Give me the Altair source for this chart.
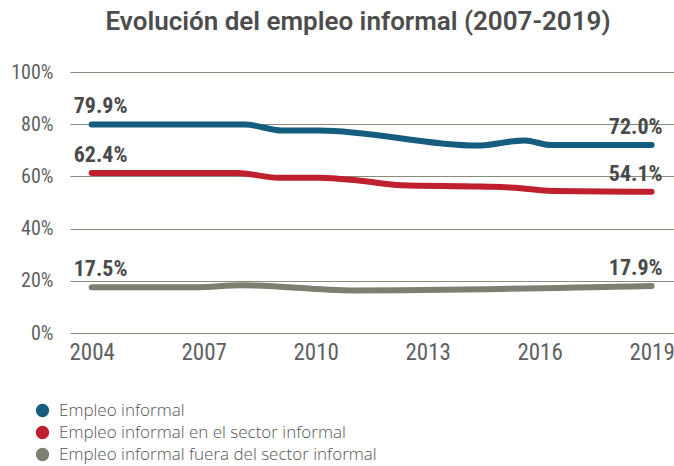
import altair as alt
import pandas as pd

series_names = [
    "Empleo informal",
    "Empleo informal en el sector informal",
    "Empleo informal fuera del sector informal",
]
series_colors = ["#145d7e", "#c01f2e", "#7d7f70"]

blue_years = [2004, 2008.1, 2009.1, 2010.1, 2014.33, 2015.6, 2016.3, 2019]
blue_values = [79.9, 79.9, 77.6, 77.6, 71.8, 73.8, 72.0, 72.0]
red_years = [2004, 2007.9, 2009.0, 2010.1, 2011.2, 2012.3, 2014.4, 2015.5, 2016.2, 2019]
red_values = [61.3, 61.3, 59.5, 59.5, 58.3, 56.6, 56.1, 55.5, 54.5, 54.1]
gray_years = [2004, 2006.8, 2008.0, 2011.0, 2019]
gray_values = [17.5, 17.5, 18.3, 16.3, 18.0]

start_labels = ["79.9%", "62.4%", "17.5%"]
end_labels = ["72.0%", "54.1%", "17.9%"]
x_ticks = [2004, 2007, 2010, 2013, 2016, 2019]
y_ticks = [0, 20, 40, 60, 80, 100]

all_years = [blue_years, red_years, gray_years]
all_values = [blue_values, red_values, gray_values]

rows = []
for name, ys, vs in zip(series_names, all_years, all_values):
    for i, (yr, v) in enumerate(zip(ys, vs)):
        rows.append({"serie": name, "year": yr, "value": v, "order": i})
df = pd.DataFrame(rows)

start_df = pd.DataFrame({
    "serie": series_names,
    "year": [ys[0] for ys in all_years],
    "value": [vs[0] for vs in all_values],
    "label": start_labels,
})
end_df = pd.DataFrame({
    "serie": series_names,
    "year": [ys[-1] for ys in all_years],
    "value": [vs[-1] for vs in all_values],
    "label": end_labels,
})

NARROW = "'Liberation Sans Narrow', 'Roboto Condensed', Roboto, sans-serif"

x_scale = alt.Scale(domain=[2003.42, 2019.6], nice=False, zero=False)
y_scale = alt.Scale(domain=[0, 100], nice=False)
color_scale = alt.Scale(domain=series_names, range=series_colors)

x_enc = alt.X(
    "year:Q",
    scale=x_scale,
    axis=alt.Axis(
        values=x_ticks, format="d", title=None, grid=False, domain=False,
        ticks=False, labelFont=NARROW, labelFontSize=23, labelColor="#5f5f5f",
        labelPadding=8, labelFlush=False, labelOverlap=False,
    ),
)
y_enc = alt.Y(
    "value:Q",
    scale=y_scale,
    axis=alt.Axis(
        values=y_ticks, labelExpr="datum.value + '%'", title=None, grid=True,
        gridColor="#8a8a7a", gridWidth=1, domain=False, ticks=False,
        labelFont=NARROW, labelFontSize=20, labelColor="#5f5f5f",
        labelPadding=17,
    ),
)

legend_points = alt.Chart(df).mark_point(
    filled=True, size=4, opacity=1, shape="circle"
).encode(
    x=x_enc,
    y=y_enc,
    color=alt.Color(
        "serie:N",
        scale=color_scale,
        legend=alt.Legend(
            title=None, orient="none", legendX=-36, legendY=330,
            symbolType="circle", symbolSize=177, symbolStrokeWidth=0,
            symbolOpacity=1,
            labelFont="'Open Sans', Roboto, sans-serif", labelFontSize=17,
            labelColor="#555555", labelFontWeight=300, labelOffset=8,
            rowPadding=4, labelLimit=0, direction="vertical",
        ),
    ),
)

lines = alt.Chart(df).mark_line(
    strokeWidth=6, strokeCap="round", interpolate="monotone"
).encode(
    x=x_enc,
    y=y_enc,
    order="order:Q",
    color=alt.Color("serie:N", scale=color_scale, legend=None),
)

start_text = alt.Chart(start_df).mark_text(
    align="left", baseline="middle", dx=-18, dy=-18,
    font=NARROW, fontSize=22, fontWeight="bold", color="#4a4a4a",
).encode(x=alt.X("year:Q", scale=x_scale), y=alt.Y("value:Q", scale=y_scale), text="label:N")

end_text = alt.Chart(end_df).mark_text(
    align="right", baseline="middle", dx=11, dy=-18,
    font=NARROW, fontSize=22, fontWeight="bold", color="#4a4a4a",
).encode(x=alt.X("year:Q", scale=x_scale), y=alt.Y("value:Q", scale=y_scale), text="label:N")

chart = alt.layer(legend_points, lines, start_text, end_text).properties(
    width=604,
    height=261,
    autosize=alt.AutoSizeParams(type="none"),
    padding={"left": 70, "top": 72, "right": 0, "bottom": 133},
    title=alt.TitleParams(
        "Evolución del empleo informal (2007-2019)",
        font="Roboto", fontSize=26, fontWeight=600, color="#4d4d4d",
        anchor="middle", offset=27, dx=-14,
    ),
).configure_view(stroke=None)

chart.save("out.html", embed_options={"renderer": "svg", "actions": False})
